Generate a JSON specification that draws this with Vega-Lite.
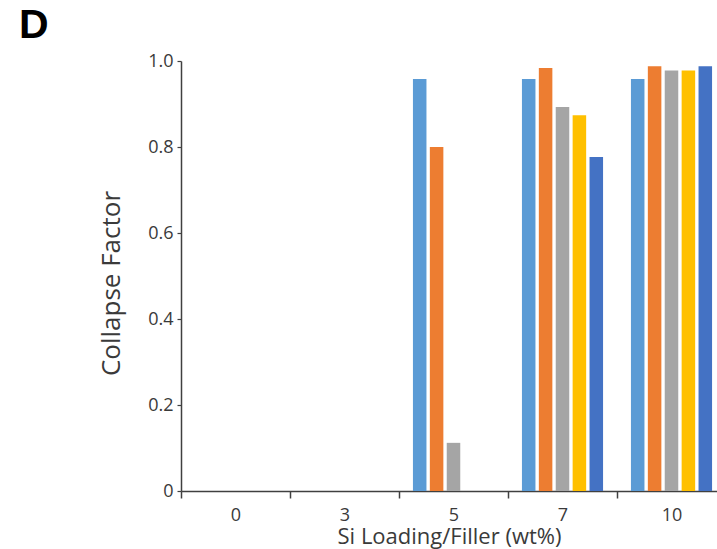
{
  "$schema": "https://vega.github.io/schema/vega-lite/v6.json",
  "autosize": "none",
  "padding": {"left": 181, "top": 61, "right": 0, "bottom": 58},
  "width": 536,
  "height": 430,
  "background": "white",
  "title": {"text": "D", "anchor": "start", "frame": "group", "fontSize": 41, "font": "Liberation Sans", "fontWeight": "bold", "color": "black", "dx": -162, "offset": 14, "dy": 9},
  "config": {"view": {"stroke": null}, "axis": {"labelFont": "Open Sans", "titleFont": "Open Sans", "labelColor": "#3a3a3a", "titleColor": "#3a3a3a", "domainColor": "#404040", "tickColor": "#404040", "grid": false, "titleFontWeight": "normal"}},
  "data": {"values": [
    {"loading": "5", "series": "S1", "value": 0.958},
    {"loading": "5", "series": "S2", "value": 0.80},
    {"loading": "5", "series": "S3", "value": 0.112},
    {"loading": "7", "series": "S1", "value": 0.958},
    {"loading": "7", "series": "S2", "value": 0.984},
    {"loading": "7", "series": "S3", "value": 0.893},
    {"loading": "7", "series": "S4", "value": 0.874},
    {"loading": "7", "series": "S5", "value": 0.777},
    {"loading": "10", "series": "S1", "value": 0.958},
    {"loading": "10", "series": "S2", "value": 0.988},
    {"loading": "10", "series": "S3", "value": 0.978},
    {"loading": "10", "series": "S4", "value": 0.978},
    {"loading": "10", "series": "S5", "value": 0.988}
  ]},
  "mark": {"type": "bar"},
  "encoding": {
    "x": {"field": "loading", "type": "nominal", "sort": ["0", "3", "5", "7", "10"],
      "scale": {"domain": ["0", "3", "5", "7", "10"], "range": [0, 545], "paddingInner": 0, "paddingOuter": 0},
      "axis": {"title": "Si Loading/Filler (wt%)", "labelAngle": 0, "labelFontSize": 18, "titleFontSize": 22, "tickBand": "extent", "tickSize": 7, "labelPadding": 8, "domainWidth": 1.5, "tickWidth": 1.5, "titleX": 268, "titleY": 52, "titleAlign": "center", "titleBaseline": "alphabetic"}},
    "xOffset": {"field": "series", "type": "nominal", "scale": {"domain": ["S1", "S2", "S3", "S4", "S5"], "paddingInner": 0.2, "paddingOuter": 0.825}},
    "y": {"field": "value", "type": "quantitative", "scale": {"domain": [0, 1]},
      "axis": {"title": "Collapse Factor", "values": [0, 0.2, 0.4, 0.6, 0.8, 1.0], "labelExpr": "datum.value == 0 ? '0' : format(datum.value, '.1f')", "labelFontSize": 18, "titleFontSize": 26, "tickSize": 4, "labelPadding": 4, "domainWidth": 1.5, "tickWidth": 1.2, "titleX": -70, "titleY": 222, "titleAlign": "center", "titleBaseline": "middle"}},
    "color": {"field": "series", "type": "nominal", "scale": {"domain": ["S1", "S2", "S3", "S4", "S5"], "range": ["#5B9BD5", "#ED7D31", "#A5A5A5", "#FFC000", "#4472C4"]}, "legend": null}
  }
}
